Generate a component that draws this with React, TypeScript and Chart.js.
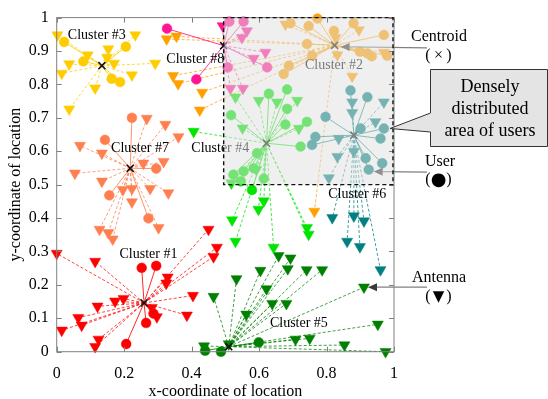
import React, { useEffect, useRef } from "react";
import { Chart, registerables } from "chart.js";
Chart.register(...registerables);

type P = [number, number];

// ---------- data ----------
const clusterNames = ["Cluster #1", "Cluster #2", "Cluster #3", "Cluster #4", "Cluster #5", "Cluster #6", "Cluster #7", "Cluster #8"];
const clusterColors = ["#ff0000", "#ffa000", "#ffcc00", "#00e400", "#008000", "#008080", "#ff7f50", "#ff1493"];

const centroids: P[] = [
  [0.259, 0.146], [0.824, 0.917], [0.134, 0.856], [0.622, 0.624],
  [0.51, 0.015], [0.881, 0.648], [0.218, 0.549], [0.495, 0.916],
];

const c1Users: P[] = [[0.252, 0.251], [0.295, 0.257], [0.265, 0.086], [0.287, 0.114], [0.206, 0.023]];
const c1Antennas: P[] = [[0.0, 0.294], [0.114, 0.27], [0.45, 0.366], [0.475, 0.312], [0.465, 0.284], [0.329, 0.223], [0.325, 0.205], [0.404, 0.168], [0.198, 0.159], [0.173, 0.151], [0.121, 0.136], [0.282, 0.132], [0.297, 0.104], [0.386, 0.109], [0.064, 0.102], [0.074, 0.079], [0.015, 0.064], [0.124, 0.037], [0.114, 0.015]];

const c2Users: P[] = [[0.693, 0.983], [0.747, 0.975], [0.773, 0.997], [0.822, 0.96], [0.88, 0.983], [0.97, 0.948], [0.742, 0.921], [0.757, 0.886], [0.688, 0.856], [0.673, 0.831], [0.899, 0.898], [0.921, 0.893], [0.934, 0.884], [0.98, 0.886]];
const c2Antennas: P[] = [[0.678, 0.98], [0.827, 0.94], [0.832, 0.888], [0.896, 0.963], [0.97, 0.896], [0.876, 0.824], [0.326, 0.936], [0.355, 0.944], [0.345, 0.826], [0.36, 0.802], [0.431, 0.776], [0.424, 0.723], [0.764, 0.42]];

const c3Users: P[] = [[0.022, 0.927], [0.079, 0.869], [0.205, 0.913], [0.163, 0.817], [0.188, 0.807]];
const c3Antennas: P[] = [[0.002, 0.948], [0.233, 0.948], [0.092, 0.888], [0.153, 0.906], [0.149, 0.881], [0.17, 0.863], [0.037, 0.861], [0.015, 0.833], [0.114, 0.789], [0.223, 0.828], [0.292, 0.863], [0.037, 0.726]];

const c4Users: P[] = [[0.629, 0.772], [0.683, 0.785], [0.683, 0.727], [0.678, 0.68], [0.742, 0.688], [0.723, 0.614], [0.517, 0.708], [0.594, 0.594], [0.554, 0.54], [0.524, 0.53], [0.584, 0.549], [0.614, 0.518], [0.546, 0.51], [0.579, 0.484]];
const c4Antennas: P[] = [[0.53, 0.762], [0.599, 0.752], [0.653, 0.747], [0.713, 0.752], [0.551, 0.669], [0.718, 0.668], [0.592, 0.545], [0.518, 0.505], [0.406, 0.659], [0.614, 0.451], [0.598, 0.426], [0.52, 0.394], [0.53, 0.33], [0.643, 0.312], [0.742, 0.371], [0.747, 0.351]];

const c5Users: P[] = [[0.44, 0.003], [0.487, 0.0], [0.599, 0.028]];
const c5Antennas: P[] = [[0.658, 0.287], [0.693, 0.28], [0.604, 0.243], [0.685, 0.248], [0.741, 0.245], [0.787, 0.245], [0.533, 0.218], [0.622, 0.188], [0.465, 0.165], [0.639, 0.144], [0.681, 0.144], [0.562, 0.112], [0.911, 0.193], [0.952, 0.082], [0.708, 0.037], [0.75, 0.04], [0.853, 0.02], [0.975, 0.0], [0.437, 0.017], [0.51, 0.023]];

const c6Users: P[] = [[0.871, 0.782], [0.921, 0.762], [0.797, 0.703], [0.901, 0.668], [0.97, 0.668], [0.96, 0.638], [0.767, 0.643], [0.757, 0.619], [0.916, 0.579], [0.965, 0.564], [0.925, 0.545]];
const c6Antennas: P[] = [[0.836, 0.638], [0.876, 0.747], [0.876, 0.715], [0.97, 0.747], [0.945, 0.688], [0.832, 0.584], [0.881, 0.599], [0.807, 0.52], [0.817, 0.401], [0.881, 0.406], [0.911, 0.391], [0.861, 0.33], [0.899, 0.314], [0.96, 0.245]];

const c7Users: P[] = [[0.223, 0.7], [0.143, 0.634], [0.295, 0.548], [0.156, 0.468], [0.272, 0.399]];
const c7Antennas: P[] = [[0.267, 0.698], [0.322, 0.68], [0.361, 0.643], [0.069, 0.617], [0.134, 0.594], [0.257, 0.564], [0.317, 0.569], [0.054, 0.534], [0.134, 0.51], [0.196, 0.485], [0.223, 0.488], [0.223, 0.448], [0.277, 0.488], [0.331, 0.475], [0.127, 0.366], [0.153, 0.356], [0.166, 0.337], [0.302, 0.371]];

const c8Users: P[] = [[0.327, 0.967], [0.414, 0.815], [0.512, 0.988], [0.554, 0.988], [0.507, 0.851], [0.624, 0.851]];
const c8Antennas: P[] = [[0.492, 0.975], [0.564, 0.96], [0.549, 0.94], [0.584, 0.878], [0.619, 0.896], [0.515, 0.788], [0.552, 0.788]];

// label anchors (data coordinates)
const labelAnchors: P[] = [
  [0.272, 0.29], [0.822, 0.856], [0.119, 0.948], [0.485, 0.61],
  [0.718, 0.086], [0.891, 0.471], [0.247, 0.608], [0.411, 0.874],
];

// dense area box (data coordinates)
const denseBoxX: P = [0.495, 0.997];
const denseBoxY: P = [0.5, 1.0];

const xTickStep = 0.2;
const yTickStep = 0.1;

// ---------- helpers ----------
const usersList = [c1Users, c2Users, c3Users, c4Users, c5Users, c6Users, c7Users, c8Users];
const antennasList = [c1Antennas, c2Antennas, c3Antennas, c4Antennas, c5Antennas, c6Antennas, c7Antennas, c8Antennas];

const FONT = "'Liberation Serif', 'Times New Roman', serif";

function rgba(hex: string, a: number) {
  const n = parseInt(hex.slice(1), 16);
  return `rgba(${(n >> 16) & 255},${(n >> 8) & 255},${n & 255},${a})`;
}

function spokes(c: P, pts: P[]) {
  const out: { x: number; y: number }[] = [];
  pts.forEach((p) => {
    out.push({ x: c[0], y: c[1] }, { x: p[0], y: p[1] }, { x: NaN, y: NaN });
  });
  return out;
}

const toXY = (pts: P[]) => pts.map((p) => ({ x: p[0], y: p[1] }));

function buildDatasets() {
  const ds: any[] = [];
  clusterNames.forEach((name, i) => {
    const col = clusterColors[i];
    const c = centroids[i];
    ds.push({
      label: name + " antenna links",
      data: spokes(c, antennasList[i]),
      showLine: true,
      spanGaps: false,
      borderColor: rgba(col, 0.75),
      borderWidth: 1,
      borderDash: [3, 2],
      pointRadius: 0,
      order: 4,
      clip: false,
    });
    ds.push({
      label: name + " user links",
      data: spokes(c, usersList[i]),
      showLine: true,
      spanGaps: false,
      borderColor: rgba(col, 0.85),
      borderWidth: 1,
      pointRadius: 0,
      order: 3,
      clip: false,
    });
    ds.push({
      label: name + " antennas",
      data: toXY(antennasList[i]),
      pointStyle: "triangle",
      rotation: 180,
      pointRadius: 6.4,
      backgroundColor: col,
      borderColor: col,
      borderWidth: 0.5,
      order: 2,
      clip: false,
    });
    ds.push({
      label: name + " users",
      data: toXY(usersList[i]),
      pointStyle: "circle",
      pointRadius: 4.9,
      backgroundColor: col,
      borderColor: col,
      borderWidth: 0.5,
      order: 2,
      clip: false,
    });
  });
  ds.push({
    label: "Centroids",
    data: toXY(centroids),
    pointStyle: "crossRot",
    pointRadius: 5,
    borderColor: "#111",
    borderWidth: 1.6,
    backgroundColor: "#111",
    order: 1,
    clip: false,
  });
  return ds;
}

function drawArrow(ctx: CanvasRenderingContext2D, x1: number, y1: number, x2: number, y2: number) {
  ctx.save();
  ctx.strokeStyle = "#808080";
  ctx.lineWidth = 1.3;
  ctx.setLineDash([]);
  const ang = Math.atan2(y2 - y1, x2 - x1);
  const len = 9;
  const bx = x2 - Math.cos(ang) * len;
  const by = y2 - Math.sin(ang) * len;
  ctx.beginPath();
  ctx.moveTo(x1, y1);
  ctx.lineTo(bx, by);
  ctx.stroke();
  ctx.fillStyle = "#3a3a3a";
  ctx.beginPath();
  ctx.moveTo(x2, y2);
  ctx.lineTo(bx + Math.sin(ang) * 4, by - Math.cos(ang) * 4);
  ctx.lineTo(bx - Math.sin(ang) * 4, by + Math.cos(ang) * 4);
  ctx.closePath();
  ctx.fill();
  ctx.restore();
}

function symbolLabel(ctx: CanvasRenderingContext2D, glyph: string, cx: number, cy: number, glyphFont: string) {
  ctx.font = `16px ${FONT}`;
  ctx.fillText("(", cx - 10.5, cy);
  ctx.fillText(")", cx + 10.5, cy);
  ctx.font = glyphFont;
  ctx.fillText(glyph, cx, cy);
}

const overlayPlugin = {
  id: "overlay",
  afterDatasetsDraw(chart: any) {
    const { ctx, chartArea: a, scales } = chart;
    const xs = scales.x;
    const ys = scales.y;
    ctx.save();
    // cluster labels
    ctx.font = `14px ${FONT}`;
    ctx.fillStyle = "#000";
    ctx.textAlign = "center";
    ctx.textBaseline = "middle";
    clusterNames.forEach((n, i) => {
      ctx.fillText(n, xs.getPixelForValue(labelAnchors[i][0]), ys.getPixelForValue(labelAnchors[i][1]));
    });

    // arrows to annotations
    const rx = 427;
    const cx = xs.getPixelForValue(centroids[1][0]);
    const cy = ys.getPixelForValue(centroids[1][1]);
    drawArrow(ctx, rx, cy + 2.5, cx + 6, cy + 1.5);
    const u = c6Users[c6Users.length - 1];
    const ux = xs.getPixelForValue(u[0]);
    const uy = ys.getPixelForValue(u[1]);
    drawArrow(ctx, rx, uy + 2.5, ux + 5, uy + 2);
    const an = c5Antennas[12];
    const ax = xs.getPixelForValue(an[0]);
    const ay = ys.getPixelForValue(an[1]);
    drawArrow(ctx, rx, ay, ax + 4, ay);

    // translucent dense-area box
    const bx0 = xs.getPixelForValue(denseBoxX[0]);
    const bx1 = xs.getPixelForValue(denseBoxX[1]);
    const by0 = ys.getPixelForValue(denseBoxY[1]);
    const by1 = ys.getPixelForValue(denseBoxY[0]);
    ctx.fillStyle = "rgba(225,225,225,0.52)";
    ctx.fillRect(bx0, by0, bx1 - bx0, by1 - by0);

    // frame with inward ticks
    ctx.strokeStyle = "#808080";
    ctx.lineWidth = 1;
    ctx.setLineDash([]);
    ctx.strokeRect(a.left, a.top, a.right - a.left, a.bottom - a.top);
    ctx.beginPath();
    const tl = 5;
    for (let v = 0; v <= 1.0001; v += xTickStep) {
      const px = Math.round(xs.getPixelForValue(v)) + 0.5;
      ctx.moveTo(px, a.bottom);
      ctx.lineTo(px, a.bottom - tl);
      ctx.moveTo(px, a.top);
      ctx.lineTo(px, a.top + tl);
    }
    for (let v = 0; v <= 1.0001; v += yTickStep) {
      const py = Math.round(ys.getPixelForValue(v)) + 0.5;
      ctx.moveTo(a.left, py);
      ctx.lineTo(a.left + tl, py);
      ctx.moveTo(a.right, py);
      ctx.lineTo(a.right - tl, py);
    }
    ctx.stroke();

    // dashed border of the box
    ctx.strokeStyle = "#111";
    ctx.lineWidth = 1.4;
    ctx.setLineDash([4, 3]);
    ctx.strokeRect(bx0, by0, bx1 - bx0, by1 - by0);
    ctx.restore();
  },
  afterDraw(chart: any) {
    const { ctx } = chart;
    ctx.save();
    ctx.fillStyle = "#000";
    ctx.textAlign = "center";
    ctx.textBaseline = "middle";
    ctx.font = `16px ${FONT}`;
    ctx.fillText("Centroid", 439, 37);
    ctx.fillText("User", 440, 162);
    ctx.fillText("Antenna", 439, 278);
    symbolLabel(ctx, "×", 438.5, 56, `16px ${FONT}`);
    symbolLabel(ctx, "●", 438.5, 180, `18px 'DejaVu Sans', sans-serif`);
    symbolLabel(ctx, "▼", 438.5, 297, `15px 'DejaVu Sans', sans-serif`);

    // callout
    ctx.beginPath();
    ctx.moveTo(430.5, 69.5);
    ctx.lineTo(547.5, 69.5);
    ctx.lineTo(547.5, 146.5);
    ctx.lineTo(430.5, 146.5);
    ctx.lineTo(430.5, 132);
    ctx.lineTo(390, 128.5);
    ctx.lineTo(430.5, 113);
    ctx.closePath();
    ctx.fillStyle = "#e4e4e4";
    ctx.fill();
    ctx.strokeStyle = "#333";
    ctx.lineWidth = 1;
    ctx.stroke();
    ctx.fillStyle = "#000";
    ctx.font = `18px ${FONT}`;
    ctx.fillText("Densely", 490, 87);
    ctx.fillText("distributed", 490, 109);
    ctx.fillText("area of users", 490, 131);
    ctx.restore();
  },
};

const fmt = (v: any) => String(Math.round(Number(v) * 10) / 10);

export default function App() {
  const ref = useRef<HTMLCanvasElement>(null);
  useEffect(() => {
    Chart.defaults.font.family = FONT;
    const chart = new Chart(ref.current as HTMLCanvasElement, {
      type: "scatter",
      data: { datasets: buildDatasets() },
      options: {
        animation: false,
        responsive: true,
        maintainAspectRatio: false,
        events: [],
        layout: { padding: { top: 15, right: 154, left: 0, bottom: 0 } },
        plugins: { legend: { display: false }, tooltip: { enabled: false } },
        scales: {
          x: {
            type: "linear",
            min: 0,
            max: 1,
            grid: { display: false, drawTicks: false },
            border: { display: false },
            ticks: { stepSize: xTickStep, callback: fmt, color: "#000", font: { size: 16 }, padding: 12, maxRotation: 0, autoSkip: false },
            title: { display: true, text: "x-coordinate of location", color: "#000", font: { size: 16, lineHeight: 1 }, padding: { top: 0, bottom: -1 } },
            afterFit: (s: any) => { s.height = 47.3; },
          },
          y: {
            type: "linear",
            min: 0,
            max: 1,
            grid: { display: false, drawTicks: false },
            border: { display: false },
            ticks: { stepSize: yTickStep, callback: fmt, color: "#000", font: { size: 16 }, padding: 8, autoSkip: false },
            title: { display: true, text: "y-coordinate of location", color: "#000", font: { size: 16, lineHeight: 1 }, padding: { top: 8, bottom: 0 } },
            afterFit: (s: any) => { s.width = 56.7; },
          },
        },
      } as any,
      plugins: [overlayPlugin],
    });
    return () => chart.destroy();
  }, []);
  return (
    <div style={{ position: "fixed", left: 0, top: 0, width: 548, height: 399, background: "#fff" }}>
      <canvas ref={ref} />
    </div>
  );
}
